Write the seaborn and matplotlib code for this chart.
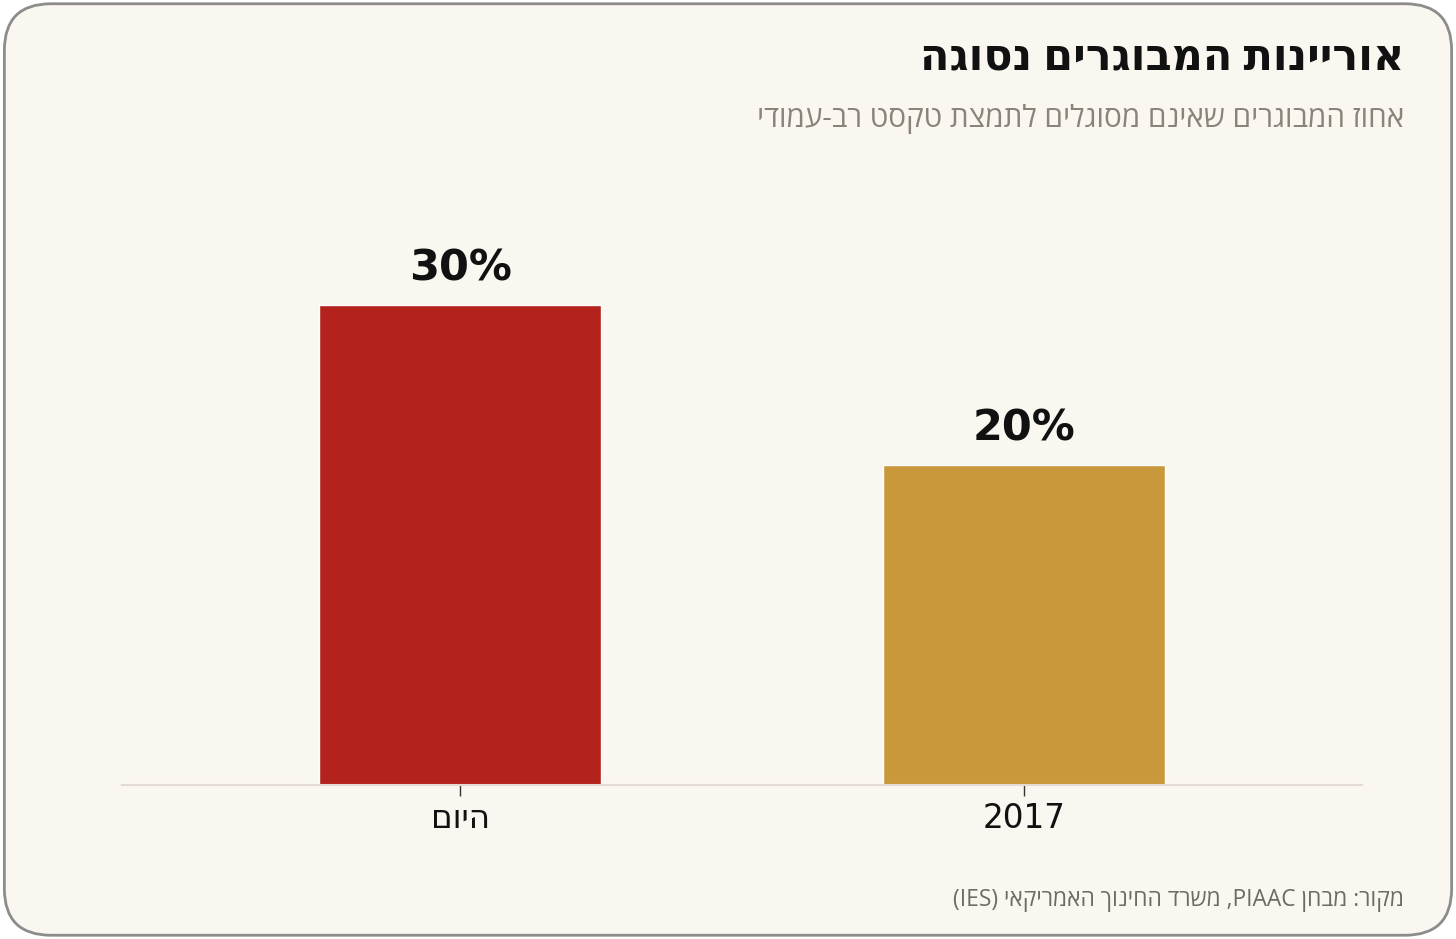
import pandas as pd
import seaborn as sns
import matplotlib.pyplot as plt
from matplotlib.patches import FancyBboxPatch

# נתונים
categories = ["היום", "2017"]
values = [30, 20]
colors = ["#B3221C", "#C8983B"]

title = "אוריינות המבוגרים נסוגה"
subtitle = "אחוז המבוגרים שאינם מסוגלים לתמצת טקסט רב-עמודי"
source_he_1 = "מקור: מבחן "
source_en = "PIAAC"
source_he_2 = ", משרד החינוך האמריקאי "
source_paren = "(IES)"


def rtl(s):
    # matplotlib has no bidi support: flip Hebrew to visual order
    return s[::-1]


def visual_source():
    return source_paren + rtl(source_he_2) + source_en + rtl(source_he_1)


bg = "#FAF7F0"
sns.set_theme(style="white")
plt.rcParams["font.family"] = ["Open Sans", "DejaVu Sans"]

df = pd.DataFrame({"cat": [rtl(c) if not c.isdigit() else c for c in categories],
                   "value": values})

fig = plt.figure(figsize=(14.56, 9.39), dpi=100)
fig.patch.set_facecolor("white")
card = FancyBboxPatch((0.003, 0.004), 0.994, 0.992,
                      boxstyle="round,pad=0,rounding_size=0.032",
                      transform=fig.transFigure, facecolor=bg,
                      edgecolor="#8C8C8C", linewidth=2, mutation_aspect=1456 / 939,
                      zorder=-5)
fig.patches.append(card)

ax = fig.add_axes([0.0838, 0.164, 0.8516, 0.6816])
ax.set_facecolor("none")
sns.barplot(data=df, x="cat", y="value", hue="cat", palette=colors,
            width=0.5, legend=False, ax=ax, saturation=1)

ax.set_xlim(-0.6, 1.6)
ax.set_ylim(0, 40)
ax.set_xlabel("")
ax.set_ylabel("")
ax.set_yticks([])
for s in ["top", "right", "left"]:
    ax.spines[s].set_visible(False)
ax.spines["bottom"].set_color("#E3DAD2")
ax.spines["bottom"].set_linewidth(1.5)
ax.tick_params(axis="x", bottom=True, length=8, width=1, color="#333333",
               labelsize=23.5, pad=4, labelcolor="#111111")
for lab in ax.get_xticklabels():
    lab.set_family("DejaVu Sans")

for i, v in enumerate(values):
    ax.annotate(f"{v}%", (i, v), xytext=(0, 11), textcoords="offset points",
                ha="center", va="bottom", fontsize=31, fontweight="bold",
                color="#111111", family="DejaVu Sans")

fig.text(0.9643, 0.938, rtl(title), ha="right", va="center",
         fontsize=31, fontweight="bold", color="#111111")
fig.text(0.9643, 0.873, rtl(subtitle), ha="right", va="center",
         fontsize=21.3, color="#8A8478")
fig.text(0.9643, 0.0415, visual_source(), ha="right", va="center",
         fontsize=16.4, color="#6E6A64")

fig.savefig("out.png", dpi=100, facecolor="white")
